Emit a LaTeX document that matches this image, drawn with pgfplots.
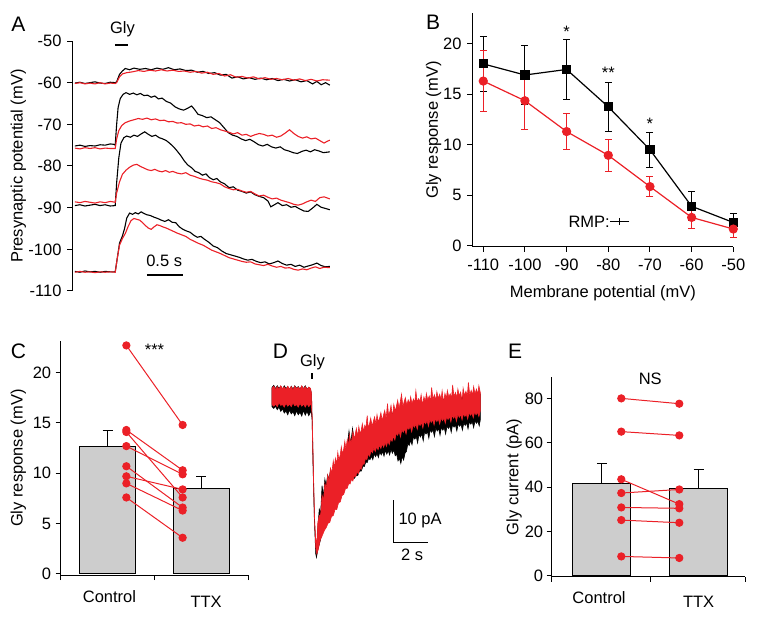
\documentclass[border=0pt]{standalone}
\usepackage{fontspec}
\setmainfont{Liberation Sans}
\usepackage{pgfplots}
\pgfplotsset{compat=1.18}
\definecolor{myred}{RGB}{235,32,39}
\definecolor{bargray}{RGB}{205,205,205}
\pgfplotsset{
  every axis/.append style={
    /pgf/number format/assume math mode=true,
    scale only axis,
    anchor=south west,
    clip=false,
    axis line style={line width=1pt},
    tick style={line width=1pt, black},
    tick align=outside,
    major tick length=5pt,
  },
}
\begin{document}
\begin{tikzpicture}[font=\fontsize{16.5}{19}\selectfont]
\useasboundingbox (0pt,0pt) rectangle (757pt,616pt);

% ---------------- Panel A ----------------
\begin{axis}[
  at={(72pt,325pt)}, width=260pt, height=250pt,
  xmin=-0.04, xmax=3.57, ymin=-110, ymax=-50,
  axis x line=none, axis y line*=left,
  ytick={-110,-100,-90,-80,-70,-60,-50},
  yticklabel style={xshift=-2pt},
  ylabel={Presynaptic potential (mV)},
  ylabel style={at={(axis description cs:-0.2065,0.5)}, anchor=center},
]
% trace 1
\addplot[black, line width=1.1pt] coordinates {(0,-60.1)(0.07,-59.9)(0.14,-60.2)(0.21,-60.0)(0.28,-59.8)(0.35,-60.1)(0.42,-60.2)(0.49,-59.9)(0.56,-60.0)(0.58,-59.8)(0.62,-58.0)(0.66,-57.2)(0.70,-56.6)(0.76,-56.9)(0.82,-56.5)(0.9,-56.8)(0.98,-56.6)(1.06,-56.9)(1.14,-56.5)(1.22,-56.8)(1.30,-56.4)(1.38,-56.9)(1.46,-56.7)(1.54,-57.1)(1.62,-57.0)(1.70,-57.5)(1.78,-57.3)(1.86,-57.8)(1.94,-57.6)(2.02,-58.2)(2.10,-58.0)(2.18,-58.9)(2.26,-58.6)(2.34,-59.1)(2.42,-58.8)(2.50,-59.2)(2.58,-58.9)(2.66,-59.3)(2.74,-59.0)(2.82,-59.5)(2.90,-59.2)(2.98,-59.6)(3.06,-59.3)(3.14,-59.8)(3.22,-59.5)(3.30,-60.3)(3.36,-59.7)(3.42,-60.5)(3.48,-60.0)(3.54,-60.6)};
\addplot[myred, line width=1.1pt] coordinates {(0,-60.2)(0.07,-60.0)(0.14,-60.3)(0.21,-60.1)(0.28,-60.3)(0.35,-60.0)(0.42,-60.3)(0.49,-60.1)(0.56,-60.2)(0.58,-60.0)(0.62,-58.6)(0.66,-57.9)(0.72,-57.6)(0.80,-57.4)(0.88,-57.1)(0.96,-57.3)(1.04,-57.0)(1.12,-57.2)(1.20,-56.9)(1.28,-57.2)(1.36,-57.0)(1.44,-57.3)(1.52,-57.2)(1.60,-57.5)(1.68,-57.3)(1.76,-57.7)(1.84,-57.5)(1.92,-58.0)(2.00,-57.8)(2.08,-58.4)(2.16,-58.1)(2.24,-58.7)(2.32,-58.5)(2.40,-58.9)(2.48,-58.6)(2.56,-59.1)(2.64,-58.8)(2.72,-59.2)(2.80,-59.0)(2.88,-59.3)(2.96,-59.0)(3.04,-59.4)(3.12,-59.1)(3.20,-59.5)(3.28,-59.2)(3.36,-59.6)(3.44,-59.3)(3.54,-59.4)};
% trace 2
\addplot[black, line width=1.1pt] coordinates {(0,-75.2)(0.07,-75.0)(0.14,-75.3)(0.21,-75.1)(0.28,-75.2)(0.35,-74.9)(0.42,-75.0)(0.49,-74.7)(0.54,-74.8)(0.56,-75.0)(0.58,-70.0)(0.60,-66.0)(0.63,-63.8)(0.67,-62.8)(0.71,-62.4)(0.76,-62.8)(0.81,-62.5)(0.86,-62.9)(0.91,-62.6)(0.96,-63.1)(1.01,-63.0)(1.06,-63.5)(1.11,-63.2)(1.16,-63.9)(1.21,-63.7)(1.27,-64.5)(1.33,-64.9)(1.39,-65.8)(1.45,-66.3)(1.51,-66.6)(1.57,-66.1)(1.62,-65.6)(1.66,-66.4)(1.71,-67.6)(1.77,-67.9)(1.83,-68.4)(1.89,-68.2)(1.95,-68.9)(2.01,-69.6)(2.07,-70.8)(2.13,-72.0)(2.19,-72.6)(2.25,-72.9)(2.31,-73.5)(2.37,-73.9)(2.43,-73.6)(2.49,-74.2)(2.55,-74.9)(2.61,-75.2)(2.67,-74.8)(2.73,-75.4)(2.79,-75.7)(2.85,-75.4)(2.91,-76.1)(2.97,-76.4)(3.03,-76.8)(3.09,-77.0)(3.15,-76.5)(3.21,-76.2)(3.27,-76.6)(3.33,-76.1)(3.39,-76.4)(3.45,-76.8)(3.54,-76.6)};
\addplot[myred, line width=1.1pt] coordinates {(0,-75.7)(0.07,-75.9)(0.14,-75.6)(0.21,-75.8)(0.28,-75.6)(0.35,-75.9)(0.42,-75.7)(0.49,-75.8)(0.56,-75.8)(0.58,-73.5)(0.61,-71.5)(0.65,-70.3)(0.70,-69.6)(0.76,-69.2)(0.82,-68.9)(0.88,-68.6)(0.94,-68.8)(1.00,-68.5)(1.06,-68.9)(1.12,-68.7)(1.18,-69.1)(1.24,-69.0)(1.30,-69.4)(1.36,-69.3)(1.42,-69.7)(1.48,-69.6)(1.54,-70.0)(1.60,-69.9)(1.66,-70.4)(1.72,-70.2)(1.78,-70.6)(1.84,-70.4)(1.90,-71.0)(1.96,-70.8)(2.02,-71.3)(2.08,-71.6)(2.14,-71.9)(2.20,-72.3)(2.26,-72.0)(2.32,-72.6)(2.38,-72.4)(2.44,-72.9)(2.50,-72.5)(2.56,-72.2)(2.62,-72.4)(2.68,-72.8)(2.74,-72.6)(2.80,-73.1)(2.86,-72.8)(2.92,-72.1)(2.98,-71.3)(3.04,-72.2)(3.10,-72.9)(3.16,-73.3)(3.22,-73.0)(3.28,-73.5)(3.34,-73.3)(3.40,-73.9)(3.46,-74.5)(3.50,-74.1)(3.54,-73.8)};
% trace 3
\addplot[black, line width=1.1pt] coordinates {(0,-89.5)(0.07,-89.3)(0.14,-89.6)(0.21,-89.4)(0.28,-89.2)(0.35,-89.5)(0.42,-89.3)(0.49,-89.6)(0.56,-89.5)(0.58,-84.0)(0.61,-78.0)(0.64,-74.5)(0.68,-73.2)(0.72,-72.8)(0.77,-73.1)(0.82,-72.6)(0.87,-72.9)(0.92,-72.3)(0.97,-71.8)(1.02,-72.4)(1.07,-72.9)(1.12,-72.6)(1.17,-73.2)(1.22,-73.5)(1.27,-73.9)(1.32,-74.6)(1.37,-75.4)(1.42,-76.4)(1.47,-77.5)(1.52,-78.8)(1.57,-79.8)(1.62,-80.4)(1.67,-81.3)(1.72,-81.6)(1.77,-82.2)(1.82,-81.9)(1.87,-82.8)(1.92,-83.3)(1.97,-83.0)(2.02,-83.8)(2.08,-84.3)(2.14,-85.2)(2.20,-85.0)(2.26,-85.8)(2.32,-86.1)(2.38,-86.5)(2.44,-86.2)(2.50,-86.9)(2.56,-87.3)(2.62,-87.6)(2.68,-88.4)(2.72,-89.8)(2.76,-89.4)(2.82,-88.8)(2.88,-89.5)(2.94,-89.3)(3.00,-89.9)(3.06,-89.7)(3.12,-90.3)(3.18,-90.8)(3.24,-90.9)(3.30,-90.1)(3.36,-89.2)(3.42,-89.9)(3.48,-90.2)(3.54,-90.5)};
\addplot[myred, line width=1.1pt] coordinates {(0,-88.6)(0.07,-88.8)(0.14,-88.5)(0.21,-88.7)(0.28,-88.9)(0.35,-88.6)(0.42,-88.8)(0.49,-88.5)(0.56,-88.7)(0.58,-86.5)(0.62,-83.8)(0.66,-82.0)(0.71,-81.0)(0.76,-80.3)(0.81,-79.8)(0.86,-79.6)(0.91,-80.1)(0.96,-80.5)(1.01,-80.9)(1.06,-81.1)(1.11,-80.8)(1.16,-81.2)(1.21,-81.4)(1.26,-81.1)(1.31,-81.5)(1.36,-81.3)(1.42,-81.7)(1.48,-81.9)(1.54,-81.6)(1.60,-82.2)(1.66,-82.5)(1.72,-82.9)(1.78,-83.2)(1.84,-83.4)(1.90,-83.8)(1.96,-84.0)(2.02,-84.3)(2.08,-85.0)(2.14,-85.4)(2.20,-85.7)(2.26,-85.6)(2.32,-86.0)(2.38,-86.3)(2.44,-86.1)(2.50,-86.7)(2.56,-87.2)(2.62,-87.0)(2.68,-87.5)(2.74,-87.9)(2.80,-87.7)(2.86,-88.2)(2.92,-88.5)(2.98,-88.8)(3.04,-89.2)(3.10,-89.4)(3.16,-89.1)(3.22,-88.6)(3.28,-88.2)(3.34,-88.5)(3.40,-87.6)(3.46,-87.4)(3.54,-87.9)};
% trace 4
\addplot[black, line width=1.1pt] coordinates {(0,-105.3)(0.07,-105.5)(0.14,-105.2)(0.21,-105.4)(0.28,-105.3)(0.35,-105.5)(0.42,-105.3)(0.49,-105.4)(0.56,-105.4)(0.59,-102.0)(0.62,-98.5)(0.66,-96.8)(0.69,-95.0)(0.72,-92.5)(0.76,-91.3)(0.80,-91.6)(0.84,-91.2)(0.88,-91.5)(0.92,-91.0)(0.96,-91.4)(1.00,-91.7)(1.05,-91.9)(1.10,-92.3)(1.15,-92.6)(1.20,-93.0)(1.25,-93.3)(1.30,-92.9)(1.35,-93.5)(1.40,-93.6)(1.45,-94.6)(1.50,-95.2)(1.55,-95.6)(1.60,-95.9)(1.65,-96.6)(1.70,-97.1)(1.75,-96.9)(1.80,-97.6)(1.86,-98.3)(1.92,-99.2)(1.98,-99.6)(2.04,-100.4)(2.10,-101.0)(2.16,-101.3)(2.22,-101.6)(2.28,-101.9)(2.34,-102.3)(2.40,-102.6)(2.46,-102.4)(2.52,-102.9)(2.58,-103.2)(2.64,-103.0)(2.70,-103.5)(2.76,-103.2)(2.82,-102.8)(2.88,-103.4)(2.94,-103.8)(3.00,-103.6)(3.06,-104.1)(3.12,-103.8)(3.18,-104.3)(3.24,-104.0)(3.30,-103.7)(3.36,-103.3)(3.42,-103.9)(3.48,-104.2)(3.54,-104.1)};
\addplot[myred, line width=1.1pt] coordinates {(0,-105.5)(0.07,-105.3)(0.14,-105.5)(0.21,-105.4)(0.28,-105.6)(0.35,-105.4)(0.42,-105.5)(0.49,-105.4)(0.56,-105.5)(0.59,-102.0)(0.62,-99.0)(0.66,-97.4)(0.70,-96.2)(0.74,-94.5)(0.78,-93.1)(0.82,-92.6)(0.86,-92.8)(0.90,-93.0)(0.94,-93.6)(0.98,-94.3)(1.02,-94.9)(1.06,-95.2)(1.10,-94.6)(1.14,-94.1)(1.18,-94.3)(1.22,-94.6)(1.27,-94.9)(1.32,-95.3)(1.37,-95.7)(1.42,-96.1)(1.48,-96.5)(1.54,-96.9)(1.60,-97.6)(1.66,-98.1)(1.72,-98.6)(1.78,-99.0)(1.84,-99.6)(1.90,-100.2)(1.96,-100.6)(2.02,-101.0)(2.08,-101.5)(2.14,-102.0)(2.20,-102.3)(2.26,-102.6)(2.32,-102.9)(2.38,-103.1)(2.44,-103.0)(2.50,-103.5)(2.56,-103.7)(2.62,-103.9)(2.68,-103.6)(2.74,-104.0)(2.80,-104.3)(2.86,-104.1)(2.92,-104.5)(2.98,-104.4)(3.04,-104.8)(3.10,-105.0)(3.16,-104.7)(3.22,-104.9)(3.28,-104.5)(3.34,-104.2)(3.40,-104.6)(3.46,-104.3)(3.54,-104.4)};
% Gly bar and scale bar
\addplot[black, line width=1.5pt] coordinates {(0.556,-50.96)(0.736,-50.96)};
\node at (axis cs:0.66,-47.2) {Gly};
\addplot[black, line width=1.5pt] coordinates {(1.0,-106.15)(1.5,-106.15)};
\node at (axis cs:1.24,-102.7) {0.5 s};
\end{axis}

% ---------------- Panel B ----------------
\begin{axis}[
  at={(472pt,369.3pt)}, width=261.3pt, height=233.3pt,
  xmin=-112.7, xmax=-50, ymin=-0.1, ymax=23,
  axis lines*=left,
  xtick={-110,-100,-90,-80,-70,-60,-50}, ytick={0,5,10,15,20},
  xticklabel style={yshift=-4pt},
  yticklabel style={xshift=-2pt},
  xlabel={Membrane potential (mV)},
  xlabel style={at={(axis description cs:0.501,-0.2)}, anchor=center},
  ylabel={Gly response (mV)},
  ylabel style={at={(axis description cs:-0.147,0.5)}, anchor=center},
]
\addplot[black, line width=1.2pt, mark=square*, mark size=4pt,
  error bars/.cd, y dir=both, y explicit,
  error bar style={line width=1pt},
  error mark options={rotate=90, mark size=3.5pt, line width=1pt}]
  coordinates {(-110,18.0) +- (0,2.7) (-100,16.9) +- (0,2.9) (-90,17.45) +- (0,3.0) (-80,13.75) +- (0,2.4) (-70,9.5) +- (0,1.75) (-60,3.9) +- (0,1.45) (-50,2.3) +- (0,0.9)};
\addplot[myred, line width=1.2pt, mark=*, mark size=4pt,
  error bars/.cd, y dir=both, y explicit,
  error bar style={line width=1pt},
  error mark options={rotate=90, mark size=3.5pt, line width=1pt}]
  coordinates {(-110,16.3) +- (0,3.0) (-100,14.35) +- (0,2.8) (-90,11.3) +- (0,1.8) (-80,8.95) +- (0,1.6) (-70,5.85) +- (0,1.0) (-60,2.8) +- (0,1.1) (-50,1.65) +- (0,0.8)};
\node at (axis cs:-90,21.2) {*};
\node at (axis cs:-80,17.1) {**};
\node at (axis cs:-70,12.1) {*};
\addplot[black, line width=1.4pt, mark=|, mark size=3.5pt,
  error bars/.cd, x dir=both, x explicit,
  error bar style={line width=1.4pt},
  error mark options={mark size=3.5pt, line width=1.4pt}]
  coordinates {(-77.3,2.4) +- (1.5,0)};
\node[anchor=east, inner sep=0pt] at (axis cs:-79.6,2.4) {RMP:};
\end{axis}

% ---------------- Panel C ----------------
\begin{axis}[
  at={(60.7pt,41pt)}, width=187.6pt, height=233.6pt,
  xmin=-0.5, xmax=1.5, ymin=-0.1, ymax=23.1,
  axis lines*=left,
  xtick={-0.5,0.5,1.5}, xticklabels={},
  ytick={0,5,10,15,20},
  yticklabel style={xshift=-1pt},
  ylabel={Gly response (mV)},
  ylabel style={at={(axis description cs:-0.226,0.5)}, anchor=center},
]
\addplot[ybar, bar width=0.6, fill=bargray, draw=black, line width=1pt] coordinates {(0,12.65)(1,8.45)};
\addplot[draw=none, mark=none, error bars/.cd, y dir=plus, y explicit,
  error bar style={line width=1pt, black},
  error mark options={rotate=90, mark size=5pt, line width=1pt, black}]
  coordinates {(0,12.65) +- (0,1.65) (1,8.45) +- (0,1.22)};
\addplot[myred, line width=1pt, mark=*, mark size=3.6pt] coordinates {(0.2,22.7)(0.8,14.8)};
\addplot[myred, line width=1pt, mark=*, mark size=3.6pt] coordinates {(0.2,14.3)(0.8,10.3)};
\addplot[myred, line width=1pt, mark=*, mark size=3.6pt] coordinates {(0.2,14.1)(0.8,7.6)};
\addplot[myred, line width=1pt, mark=*, mark size=3.6pt] coordinates {(0.2,12.7)(0.8,9.9)};
\addplot[myred, line width=1pt, mark=*, mark size=3.6pt] coordinates {(0.2,10.7)(0.8,6.6)};
\addplot[myred, line width=1pt, mark=*, mark size=3.6pt] coordinates {(0.2,9.7)(0.8,8.4)};
\addplot[myred, line width=1pt, mark=*, mark size=3.6pt] coordinates {(0.2,9.0)(0.8,6.3)};
\addplot[myred, line width=1pt, mark=*, mark size=3.6pt] coordinates {(0.2,7.6)(0.8,3.6)};
\node at (axis cs:0.5,22.3) {***};
\node at (axis cs:0.02,-2.25) {Control};
\node at (axis cs:1.05,-2.75) {TTX};
\end{axis}

% ---------------- Panel D ----------------
\begin{axis}[
  at={(265pt,46pt)}, width=220pt, height=200pt,
  xmin=-0.4, xmax=12.17, ymin=-40.75, ymax=6.09,
  hide axis,
]
\addplot[fill=black, draw=black, line width=0.6pt] coordinates {(0,2.0)(0.1,2.5)(0.2,1.7)(0.3,2.4)(0.4,1.8)(0.5,2.3)(0.6,1.6)(0.7,2.4)(0.8,1.7)(0.9,2.2)(1.0,1.5)(1.1,2.3)(1.2,1.6)(1.3,2.4)(1.4,1.8)(1.5,2.2)(1.6,1.6)(1.7,2.3)(1.8,1.7)(1.9,2.4)(2.0,1.6)(2.1,2.0)(2.2,1.7)(2.26,0.3)(2.34,-15.5)(2.42,-29)(2.5,-35)(2.56,-36)(2.62,-31)(2.7,-26.5)(2.78,-27.5)(2.86,-21.0)(2.94,-23.5)(3.02,-19.5)(3.1,-21)(3.18,-18.5)(3.26,-19.5)(3.34,-17.5)(3.42,-18.5)(3.6,-16.5)(4.0,-13.8)(4.3,-11.8)(4.4,-8.2)(4.5,-11.2)(4.6,-7.6)(4.7,-10.4)(5.0,-9.2)(5.5,-7.8)(6.0,-6.4)(6.5,-5.5)(7.0,-3.6)(7.5,-2.6)(8.0,-1.9)(9.0,-1.3)(10.0,-0.7)(11.0,-0.3)(11.9,0.5)
(11.9,-5.6)(11.84,-7.0)(11.76,-5.9)(11.68,-6.4)(11.6,-5.8)(11.52,-7.4)(11.44,-6.0)(11.36,-6.6)(11.28,-6.0)(11.2,-7.7)(11.12,-6.3)(11.04,-6.9)(10.96,-6.3)(10.88,-8.0)(10.8,-6.6)(10.72,-7.1)(10.64,-6.5)(10.56,-8.2)(10.48,-6.8)(10.4,-7.3)(10.32,-6.7)(10.24,-8.5)(10.16,-7.0)(10.08,-7.6)(10.0,-7.0)(9.92,-8.9)(9.84,-7.4)(9.76,-8.0)(9.68,-7.3)(9.6,-9.2)(9.52,-7.6)(9.44,-8.2)(9.36,-7.5)(9.28,-9.5)(9.2,-7.9)(9.12,-8.5)(9.04,-7.9)(8.96,-9.9)(8.88,-8.3)(8.8,-8.9)(8.72,-8.4)(8.64,-10.5)(8.56,-8.9)(8.48,-9.6)(8.4,-9.0)(8.32,-11.0)(8.24,-9.5)(8.16,-10.1)(8.08,-9.6)(8.0,-11.4)(7.92,-10.4)(7.84,-11.6)(7.76,-11.2)(7.68,-13.0)(7.6,-13.4)(7.52,-15.0)(7.44,-14.2)(7.36,-15.8)(7.28,-14.6)(7.2,-15.2)(7.12,-13.6)(7.04,-14.0)(6.96,-12.6)(6.88,-13.4)(6.8,-12.5)(6.72,-13.8)(6.64,-12.8)(6.56,-13.6)(6.48,-12.7)(6.4,-14.1)(6.32,-13.0)(6.24,-13.8)(6.16,-13.1)(6.08,-14.4)(6.0,-13.5)(5.92,-14.2)(5.84,-13.6)(5.76,-14.9)(5.68,-14.1)(5.6,-14.9)(5.52,-14.6)(5.44,-15.6)(5.36,-15.4)(5.28,-16.5)(5.2,-16.4)(5.1,-17.6)(5.0,-17.6)(4.9,-18.6)(4.8,-18.7)(4.7,-19.3)(4.6,-19.0)(4.5,-19.8)(4.4,-19.7)(4.3,-20.3)(4.2,-20.5)(4.1,-21.5)(3.9,-23.2)(3.7,-24.9)(3.5,-26.2)(3.3,-28.0)(3.1,-29.4)(2.9,-31.3)(2.75,-34.0)(2.62,-36.0)(2.54,-37.8)(2.5,-37)(2.44,-31)(2.38,-21)(2.3,-6)(2.24,-3.5)(2.2,-3.8)(2.1,-4.6)(2.0,-3.6)(1.9,-4.5)(1.8,-3.4)(1.7,-4.7)(1.6,-3.8)(1.5,-4.4)(1.4,-3.5)(1.3,-4.6)(1.2,-3.7)(1.1,-4.2)(1.0,-3.3)(0.9,-4.4)(0.8,-3.5)(0.7,-4.0)(0.6,-3.0)(0.5,-3.6)(0.4,-2.6)(0.3,-3.2)(0.2,-2.4)(0.1,-2.9)(0,-2.5)} -- cycle;
\addplot[fill=myred, draw=myred, line width=0.6pt] coordinates {(0,1.8)(0.1,2.3)(0.2,1.5)(0.3,2.2)(0.4,1.6)(0.5,2.4)(0.6,1.7)(0.7,2.1)(0.8,1.5)(0.9,2.3)(1.0,1.6)(1.1,2.2)(1.2,1.4)(1.3,2.3)(1.4,1.7)(1.5,2.1)(1.6,1.5)(1.7,2.4)(1.8,1.6)(1.9,2.2)(2.0,1.5)(2.1,2.1)(2.2,1.8)(2.26,0.5)(2.34,-15)(2.42,-28)(2.5,-33.5)(2.56,-34.5)(2.62,-29.5)(2.7,-28.0)(2.78,-27.8)(2.86,-23.2)(2.94,-24.5)(3.02,-20.5)(3.1,-21.5)(3.18,-18.5)(3.26,-19.8)(3.34,-16.9)(3.42,-18.0)(3.5,-15.2)(3.56,-17.0)(3.62,-14.6)(3.7,-15.8)(3.76,-13.2)(3.82,-15.0)(3.9,-13.8)(3.96,-11.9)(4.02,-13.6)(4.1,-12.4)(4.16,-10.6)(4.22,-12.5)(4.3,-10.2)(4.36,-11.8)(4.42,-9.1)(4.5,-11.0)(4.56,-10.2)(4.62,-8.3)(4.7,-10.1)(4.76,-8.9)(4.82,-7.6)(4.9,-9.5)(4.96,-7.2)(5.04,-8.9)(5.1,-8.0)(5.16,-6.5)(5.24,-8.4)(5.3,-6.9)(5.36,-7.6)(5.44,-4.6)(5.5,-7.6)(5.58,-6.4)(5.64,-5.2)(5.72,-7.1)(5.8,-5.8)(5.86,-4.9)(5.94,-6.6)(6.0,-4.4)(6.08,-6.2)(6.16,-5.0)(6.22,-3.9)(6.3,-5.9)(6.36,-4.6)(6.44,-3.4)(6.52,-5.3)(6.6,-1.8)(6.66,-4.6)(6.74,-3.6)(6.8,-2.2)(6.88,-5.0)(6.96,-2.0)(7.04,-3.5)(7.1,-2.6)(7.18,-1.0)(7.26,-2.9)(7.32,-1.6)(7.4,0.4)(7.48,-2.5)(7.56,-1.2)(7.62,-0.4)(7.7,-2.2)(7.78,-0.9)(7.86,-1.9)(7.92,-0.2)(8.0,-1.8)(8.08,-0.7)(8.16,-1.6)(8.22,1.2)(8.3,-1.5)(8.38,-0.6)(8.46,-1.3)(8.52,0.3)(8.6,-2.2)(8.68,-0.2)(8.76,-1.4)(8.82,0.6)(8.9,-1.0)(8.98,0.0)(9.06,-1.2)(9.12,2.0)(9.2,-0.8)(9.28,0.3)(9.36,-1.0)(9.42,1.0)(9.5,-0.6)(9.58,0.4)(9.66,-0.8)(9.72,1.2)(9.8,-1.6)(9.88,0.6)(9.96,-0.6)(10.02,1.3)(10.1,-0.3)(10.18,0.5)(10.26,-0.5)(10.32,2.6)(10.4,-0.2)(10.48,0.8)(10.56,-0.4)(10.62,1.6)(10.7,0.0)(10.78,0.9)(10.86,-1.3)(10.92,1.8)(11.0,0.1)(11.08,1.1)(11.16,0.0)(11.22,3.2)(11.3,0.3)(11.38,1.3)(11.46,0.2)(11.52,2.2)(11.6,0.5)(11.68,1.6)(11.76,0.4)(11.82,2.4)(11.9,0.8)
(11.9,-3.5)(11.82,-4.8)(11.74,-3.8)(11.66,-4.4)(11.58,-3.7)(11.5,-5.1)(11.42,-4.0)(11.34,-4.5)(11.26,-3.9)(11.18,-5.4)(11.1,-4.2)(11.02,-4.8)(10.94,-4.1)(10.86,-5.6)(10.78,-4.3)(10.7,-5.0)(10.62,-4.3)(10.54,-5.9)(10.46,-4.6)(10.38,-5.2)(10.3,-4.5)(10.22,-6.1)(10.14,-4.8)(10.06,-5.5)(9.98,-4.9)(9.9,-6.4)(9.82,-5.1)(9.74,-5.8)(9.66,-5.1)(9.58,-6.6)(9.5,-5.3)(9.42,-6.0)(9.34,-5.3)(9.26,-6.8)(9.18,-5.5)(9.1,-6.2)(9.02,-5.5)(8.94,-7.1)(8.86,-5.8)(8.78,-6.5)(8.7,-5.9)(8.62,-7.5)(8.54,-6.2)(8.46,-6.9)(8.38,-6.3)(8.3,-7.8)(8.22,-6.6)(8.14,-7.3)(8.06,-6.8)(7.98,-8.4)(7.9,-7.1)(7.82,-7.8)(7.74,-7.3)(7.66,-8.9)(7.58,-7.7)(7.5,-8.5)(7.42,-7.9)(7.34,-9.6)(7.26,-8.3)(7.18,-9.2)(7.1,-8.7)(7.02,-10.3)(6.94,-9.4)(6.86,-10.6)(6.78,-10.0)(6.7,-11.4)(6.62,-10.6)(6.54,-11.8)(6.46,-10.9)(6.38,-12.0)(6.3,-11.2)(6.22,-12.3)(6.14,-11.5)(6.06,-12.6)(5.98,-11.9)(5.9,-13.0)(5.82,-12.2)(5.74,-13.3)(5.66,-12.8)(5.58,-14.1)(5.5,-13.6)(5.42,-14.9)(5.34,-14.6)(5.26,-16.0)(5.18,-15.9)(5.1,-17.2)(5.02,-17.0)(4.94,-18.2)(4.86,-17.8)(4.78,-18.9)(4.7,-18.7)(4.62,-19.9)(4.54,-19.5)(4.46,-20.6)(4.38,-20.5)(4.3,-21.6)(4.2,-21.7)(4.1,-23.0)(4.0,-23.3)(3.9,-24.8)(3.8,-25.0)(3.7,-26.6)(3.6,-26.6)(3.5,-28.0)(3.4,-28.2)(3.3,-29.6)(3.2,-29.8)(3.1,-30.8)(3.0,-31.4)(2.9,-32.4)(2.75,-33.8)(2.65,-35.8)(2.56,-37.0)(2.5,-35.5)(2.44,-30)(2.38,-20)(2.3,-5)(2.24,-1.8)(2.2,-2.0)(2.1,-2.5)(2.0,-1.8)(1.9,-2.6)(1.8,-1.9)(1.7,-2.4)(1.6,-1.7)(1.5,-2.6)(1.4,-2.0)(1.3,-2.3)(1.2,-1.6)(1.1,-2.5)(1.0,-1.9)(0.9,-2.4)(0.8,-1.7)(0.7,-2.6)(0.6,-2.0)(0.5,-2.2)(0.4,-1.6)(0.3,-2.5)(0.2,-1.9)(0.1,-2.4)(0,-2.0)} -- cycle;
% Gly application bar
\addplot[black, line width=2.6pt] coordinates {(2.29,4.0)(2.29,5.5)};
\node at (axis cs:2.31,7.87) {Gly};
% scale bars
\addplot[black, line width=1.2pt] coordinates {(6.93,-24.36)(6.93,-34.36)(8.93,-34.36)};
\node[anchor=west, inner sep=0pt] at (axis cs:7.22,-29.2) {10 pA};
\node at (axis cs:8.0,-37.2) {2 s};
\end{axis}

% ---------------- Panel E ----------------
\begin{axis}[
  at={(551.7pt,39.4pt)}, width=193.3pt, height=199.5pt,
  xmin=-0.52, xmax=1.48, ymin=-0.4, ymax=89.6,
  axis lines*=left,
  xtick={-0.52,0.5,1.48}, xticklabels={},
  ytick={0,20,40,60,80},
  ylabel={Gly current (pA)},
  ylabel style={at={(axis description cs:-0.195,0.5)}, anchor=center},
]
\addplot[ybar, bar width=0.6, fill=bargray, draw=black, line width=1pt] coordinates {(0,41.65)(1,39.25)};
\addplot[draw=none, mark=none, error bars/.cd, y dir=plus, y explicit,
  error bar style={line width=1pt, black},
  error mark options={rotate=90, mark size=5pt, line width=1pt, black}]
  coordinates {(0,41.65) +- (0,9.05) (1,39.25) +- (0,8.85)};
\addplot[myred, line width=1pt, mark=*, mark size=3.6pt] coordinates {(0.2,80.0)(0.8,77.6)};
\addplot[myred, line width=1pt, mark=*, mark size=3.6pt] coordinates {(0.2,65.0)(0.8,63.3)};
\addplot[myred, line width=1pt, mark=*, mark size=3.6pt] coordinates {(0.2,43.5)(0.8,32.3)};
\addplot[myred, line width=1pt, mark=*, mark size=3.6pt] coordinates {(0.2,37.3)(0.8,38.9)};
\addplot[myred, line width=1pt, mark=*, mark size=3.6pt] coordinates {(0.2,30.8)(0.8,30.4)};
\addplot[myred, line width=1pt, mark=*, mark size=3.6pt] coordinates {(0.2,25.1)(0.8,23.9)};
\addplot[myred, line width=1pt, mark=*, mark size=3.6pt] coordinates {(0.2,8.7)(0.8,8.0)};
\node at (axis cs:0.5,88.7) {NS};
\node at (axis cs:-0.03,-9.75) {Control};
\node at (axis cs:1.0,-12.0) {TTX};
\end{axis}

% panel letters
\node[font=\fontsize{21}{24}\selectfont] at (18.3pt,591.8pt) {A};
\node[font=\fontsize{21}{24}\selectfont] at (433pt,593.5pt) {B};
\node[font=\fontsize{21}{24}\selectfont] at (18.5pt,264.5pt) {C};
\node[font=\fontsize{21}{24}\selectfont] at (280.5pt,265pt) {D};
\node[font=\fontsize{21}{24}\selectfont] at (515pt,265pt) {E};
\end{tikzpicture}
\end{document}
